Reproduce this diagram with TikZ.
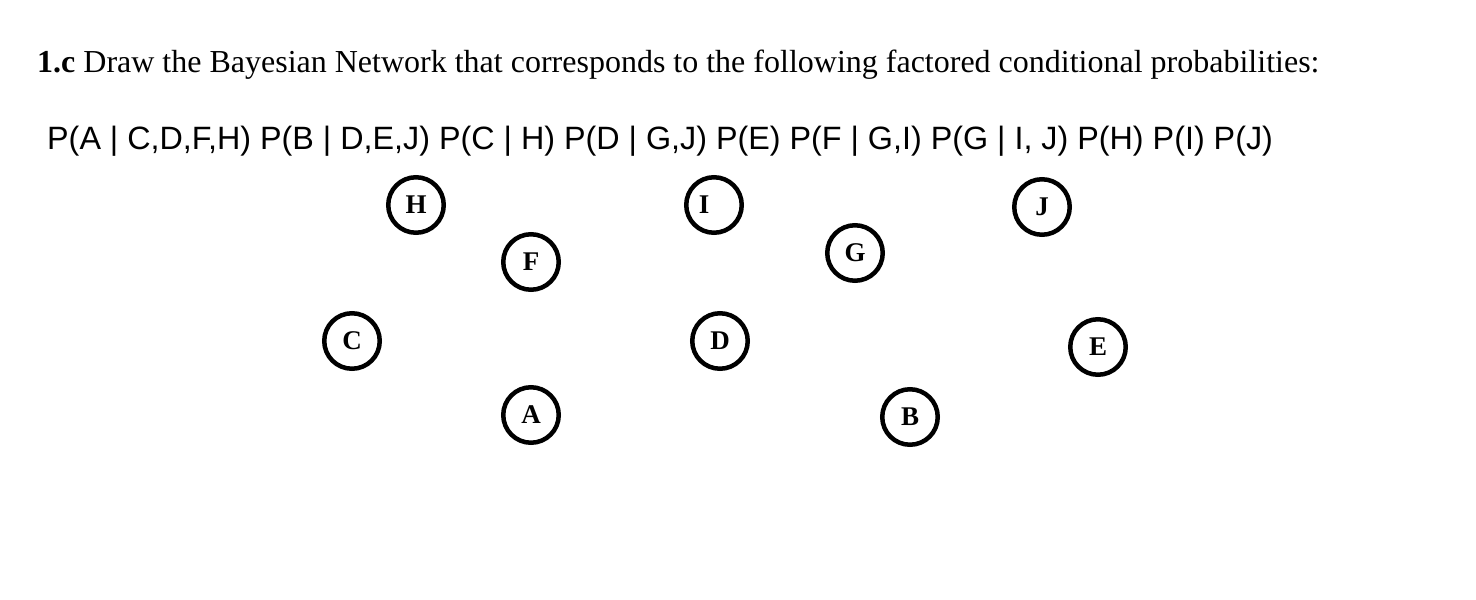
\documentclass[tikz,border=0pt]{standalone}
\usepackage{fontspec}
\setmainfont{Liberation Serif}
\newfontfamily\arialfont{Liberation Sans}
\begin{document}
\begin{tikzpicture}[x=1pt,y=-1pt,
  bnnode/.style={circle,draw=black,line width=4.5pt,minimum size=55.5pt,inner sep=0pt,font=\fontsize{27}{27}\selectfont\bfseries},
  txt/.style={anchor=base west,inner sep=0pt}]
\useasboundingbox[fill=white] (0,0) rectangle (1476,600);
\node[txt,font=\fontsize{32}{32}\selectfont] (title) at (37,72) {\textbf{1.c} Draw the Bayesian Network that corresponds to the following factored conditional probabilities:};
\node[txt,font=\fontsize{32.3}{32}\arialfont] (formula) at (47,149) {P(A | C,D,F,H) P(B | D,E,J) P(C | H) P(D | G,J) P(E) P(F | G,I) P(G | I, J) P(H) P(I) P(J)};
\node[bnnode] (H) at (416,205) {\raisebox{-2pt}{H}};
\node[bnnode] (I) at (714,205) {\hspace*{-20pt}\raisebox{-2pt}{I}};
\node[bnnode] (J) at (1042,207) {\raisebox{-2pt}{J}};
\node[bnnode] (F) at (531,262) {\raisebox{-2pt}{F}};
\node[bnnode] (G) at (855,253) {\raisebox{-2pt}{G}};
\node[bnnode] (C) at (352,341) {\raisebox{-2pt}{C}};
\node[bnnode] (D) at (720,341) {\raisebox{-2pt}{D}};
\node[bnnode] (E) at (1098,347) {\raisebox{-2pt}{E}};
\node[bnnode] (A) at (531,415) {\raisebox{-2pt}{A}};
\node[bnnode] (B) at (910,417) {\raisebox{-2pt}{B}};
\end{tikzpicture}
\end{document}
